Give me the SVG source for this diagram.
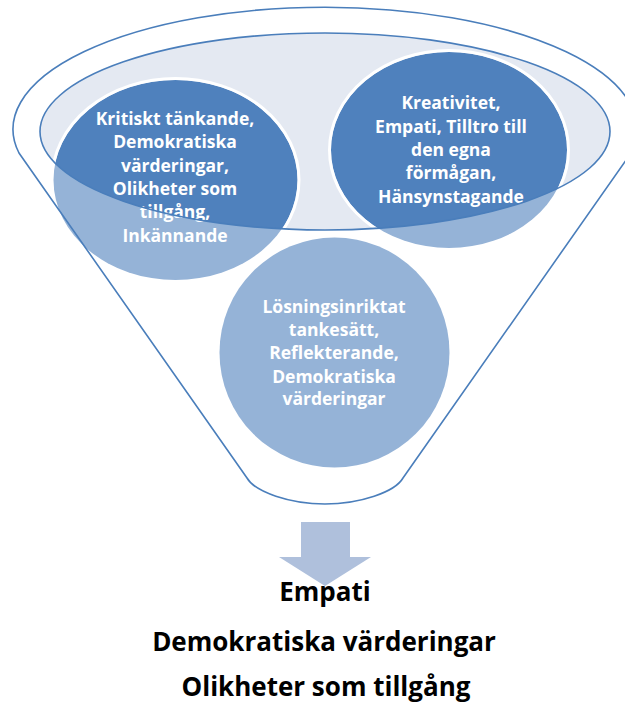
<svg xmlns="http://www.w3.org/2000/svg" width="625" height="707" viewBox="0 0 625 707">
  <style>
    .ct { font-family: "Open Sans", "Liberation Sans", sans-serif; font-weight: 700; font-size: 17.5px; fill: #ffffff; text-anchor: middle; }
    .bt { font-family: "Open Sans", "Liberation Sans", sans-serif; font-weight: 700; font-size: 26px; fill: #000000; text-anchor: middle; }
    .light { fill: #95b3d7; }
    .dark { fill: #4f81bd; }
    .ring { fill: none; stroke: #ffffff; stroke-width: 3; }
    .edge { fill: none; stroke: #4a7ebb; stroke-width: 1.6; }
  </style>
  <defs>
    <clipPath id="innerClip">
      <ellipse cx="325" cy="131.5" rx="285" ry="98.5"/>
    </clipPath>
  </defs>
  <rect x="0" y="0" width="625" height="707" fill="#ffffff"/>
  <g id="funnel-top">
    <ellipse cx="325" cy="131.5" rx="285" ry="98.5" fill="#e4e9f2"/>
  </g>
  <g id="node-left">
    <ellipse class="light" cx="175.5" cy="180" rx="122" ry="100"/>
    <ellipse class="dark" cx="175.5" cy="180" rx="122" ry="100" clip-path="url(#innerClip)"/>
    <ellipse class="ring" cx="175.5" cy="180" rx="123.5" ry="101.5" clip-path="url(#innerClip)"/>
    <text class="ct" x="175" y="125">Kritiskt tänkande,</text>
    <text class="ct" x="175" y="148.3">Demokratiska</text>
    <text class="ct" x="175" y="171.7">värderingar,</text>
    <text class="ct" x="175" y="195">Olikheter som</text>
    <text class="ct" x="175" y="218.3">tillgång,</text>
    <text class="ct" x="175" y="241.7">Inkännande</text>
  </g>
  <g id="node-right">
    <ellipse class="light" cx="449" cy="150" rx="118" ry="98"/>
    <ellipse class="dark" cx="449" cy="150" rx="118" ry="98" clip-path="url(#innerClip)"/>
    <ellipse class="ring" cx="449" cy="150" rx="119.5" ry="99.5" clip-path="url(#innerClip)"/>
    <text class="ct" x="451" y="109.3">Kreativitet,</text>
    <text class="ct" x="451" y="132.7">Empati, Tilltro till</text>
    <text class="ct" x="451" y="156">den egna</text>
    <text class="ct" x="451" y="179.3">förmågan,</text>
    <text class="ct" x="451" y="202.7">Hänsynstagande</text>
  </g>
  <g id="node-bottom">
    <circle class="light" cx="334.5" cy="352.5" r="115"/>
    <text class="ct" x="334" y="313.3">Lösningsinriktat</text>
    <text class="ct" x="334" y="336.3">tankesätt,</text>
    <text class="ct" x="334" y="359.3">Reflekterande,</text>
    <text class="ct" x="334" y="382.6">Demokratiska</text>
    <text class="ct" x="334" y="405.3">värderingar</text>
  </g>
  <g id="funnel-outline">
    <ellipse class="edge" cx="325" cy="131.5" rx="285" ry="98.5"/>
    <path class="edge" d="M 19,153 A 312,122 0 1 1 631,153 L 403,478 C 395,492 360,504 325,504 C 290,504 255,492 247,478 Z"/>
  </g>
  <g id="connectors">
    <polygon points="301,522 350,522 350,557 371,557 325,586 279,557 301,557" fill="#afc0dc"/>
  </g>
  <g id="result">
    <text class="bt" x="325" y="601">Empati</text>
    <text class="bt" x="324" y="651">Demokratiska värderingar</text>
    <text class="bt" x="326" y="696">Olikheter som tillgång</text>
  </g>
</svg>
